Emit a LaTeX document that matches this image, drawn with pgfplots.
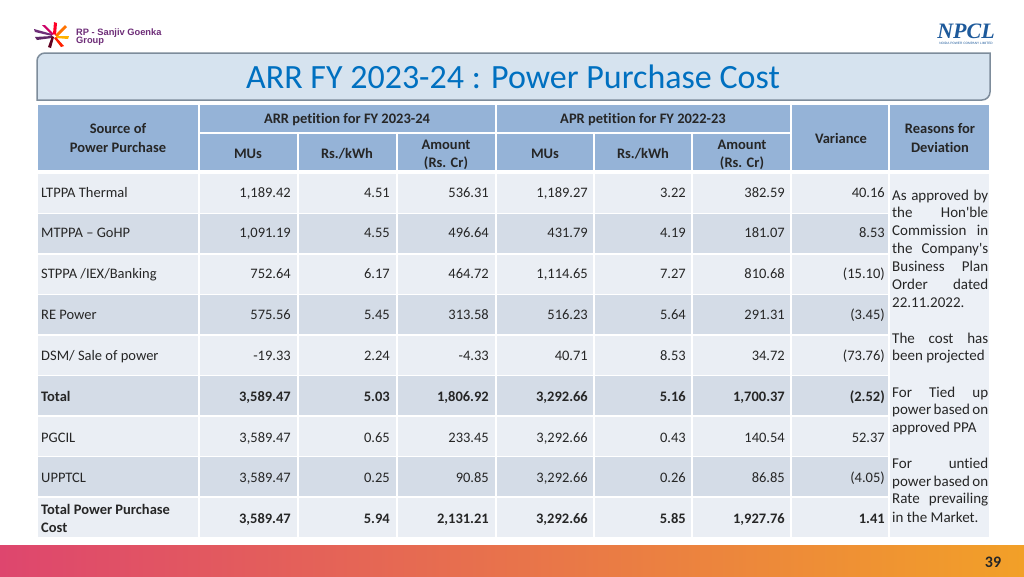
\documentclass[border=0pt]{standalone}
\usepackage{pgfplots}
\pgfplotsset{compat=1.18}
\usepackage{fontspec}
\setmainfont{Carlito}[Ligatures={NoCommon}]
\newfontfamily\logofont{Liberation Sans}
\newfontfamily\npclfont{Liberation Serif}
\definecolor{hdr}{RGB}{149,179,215}
\definecolor{rowA}{RGB}{234,238,244}
\definecolor{rowB}{RGB}{212,220,231}
\definecolor{reabg}{RGB}{236,240,246}
\definecolor{txt}{RGB}{38,38,38}
\definecolor{titlebg}{RGB}{214,227,239}
\definecolor{titlebd}{RGB}{125,140,155}
\definecolor{titletx}{RGB}{0,112,192}
\definecolor{logopurple}{RGB}{110,45,120}
\definecolor{npclblue}{RGB}{30,90,155}
\tikzset{
  num/.style={anchor=base east, inner sep=0pt, text=txt, font=\fontsize{14.5}{17}\selectfont},
  src/.style={anchor=base west, inner sep=0pt, text=txt, font=\fontsize{14.5}{17}\selectfont},
  hd/.style={anchor=center, inner sep=0pt, text=txt, font=\fontsize{14.5}{17}\selectfont\bfseries, align=center},
  rea/.style={anchor=base west, inner sep=0pt, text=txt, font=\fontsize{15}{18}\selectfont},
}
\newcommand{\rowv}[9]{%
  \node[num] at (axis cs:291,#1) {#2#3};
  \node[num] at (axis cs:390,#1) {#2#4};
  \node[num] at (axis cs:489,#1) {#2#5};
  \node[num] at (axis cs:588,#1) {#2#6};
  \node[num] at (axis cs:686,#1) {#2#7};
  \node[num] at (axis cs:785,#1) {#2#8};
  \node[num] at (axis cs:885,#1) {#2#9};}
\newcommand{\bandrow}[3]{%
  \fill[#3, draw=white, line width=1.5pt] (axis cs:37,#1) rectangle (axis cs:199,#2);
  \fill[#3, draw=white, line width=1.5pt] (axis cs:199,#1) rectangle (axis cs:298,#2);
  \fill[#3, draw=white, line width=1.5pt] (axis cs:298,#1) rectangle (axis cs:397,#2);
  \fill[#3, draw=white, line width=1.5pt] (axis cs:397,#1) rectangle (axis cs:496,#2);
  \fill[#3, draw=white, line width=1.5pt] (axis cs:496,#1) rectangle (axis cs:594,#2);
  \fill[#3, draw=white, line width=1.5pt] (axis cs:594,#1) rectangle (axis cs:692,#2);
  \fill[#3, draw=white, line width=1.5pt] (axis cs:692,#1) rectangle (axis cs:791,#2);
  \fill[#3, draw=white, line width=1.5pt] (axis cs:791,#1) rectangle (axis cs:889,#2);}
\newcommand{\jline}[2]{\node[rea] at (axis cs:892,#1) {\makebox[96pt][s]{#2}};}
\newcommand{\lline}[2]{\node[rea] at (axis cs:892,#1) {#2};}
\begin{document}
\begin{tikzpicture}
\begin{axis}[scale only axis, width=1024pt, height=576pt,
  xmin=0, xmax=1024, ymin=0, ymax=576, y dir=reverse,
  hide axis, clip=false]
\addplot[draw=none, mark=none] coordinates {(0,0) (1024,576)};
% background
\fill[white] (axis cs:0,0) rectangle (axis cs:1024,576);
% logo starburst
\fill[logopurple] (axis cs:52,34) -- (axis cs:34,29) -- (axis cs:35,32) -- (axis cs:52,36) -- cycle;
\fill[logopurple!85!black] (axis cs:52,36) -- (axis cs:35,37) -- (axis cs:37,40) -- (axis cs:52,38) -- cycle;
\fill[purple!80!magenta] (axis cs:52,35) -- (axis cs:42,25) -- (axis cs:45,25) -- (axis cs:54,34) -- cycle;
\fill[red!85!magenta] (axis cs:53,34) -- (axis cs:54,22) -- (axis cs:57,23) -- (axis cs:56,35) -- cycle;
\fill[orange!90!red] (axis cs:55,35) -- (axis cs:65,25) -- (axis cs:67,27) -- (axis cs:57,37) -- cycle;
\fill[orange!60!yellow] (axis cs:56,36) -- (axis cs:69,36) -- (axis cs:68,39) -- (axis cs:56,38) -- cycle;
\fill[red!75!orange] (axis cs:56,37) -- (axis cs:64,46) -- (axis cs:61,47) -- (axis cs:54,38) -- cycle;
\fill[purple!50!black] (axis cs:54,37) -- (axis cs:51,48) -- (axis cs:48,47) -- (axis cs:52,36) -- cycle;
\node[anchor=base west, inner sep=0pt, text=logopurple, font=\logofont\fontsize{9.3}{10}\selectfont\bfseries] at (axis cs:76,35.5) {RP - Sanjiv Goenka};
\node[anchor=base west, inner sep=0pt, text=logopurple, font=\logofont\fontsize{9.3}{10}\selectfont\bfseries] at (axis cs:76,43.5) {Group};
% NPCL
\node[anchor=base, inner sep=0pt, text=npclblue, font=\npclfont\fontsize{22}{24}\selectfont\bfseries\itshape] at (axis cs:966,38) {NPCL};
\node[anchor=base, inner sep=0pt, text=npclblue, font=\logofont\fontsize{3.2}{3.5}\selectfont] at (axis cs:966,44) {NOIDA POWER COMPANY LIMITED};
% title box
\draw[fill=titlebg, draw=titlebd, line width=1.5pt]
  (axis cs:37,80) [rounded corners=8pt]-- (axis cs:37,53) [sharp corners]-- (axis cs:990,53) -- (axis cs:990,80)
  [rounded corners=8pt]-- (axis cs:990,100) [sharp corners]-- (axis cs:37,100) -- cycle;
\node[anchor=base, inner sep=0pt, text=titletx, font=\fontsize{34}{38}\selectfont] at (axis cs:513,88) {ARR FY 2023-24 : Power Purchase Cost};
% header cells
\fill[hdr, draw=white, line width=2pt] (axis cs:37,104) rectangle (axis cs:199,171);
\fill[hdr, draw=white, line width=2pt] (axis cs:199,104) rectangle (axis cs:496,133);
\fill[hdr, draw=white, line width=2pt] (axis cs:496,104) rectangle (axis cs:791,133);
\fill[hdr, draw=white, line width=2pt] (axis cs:199,133) rectangle (axis cs:298,171);
\fill[hdr, draw=white, line width=2pt] (axis cs:298,133) rectangle (axis cs:397,171);
\fill[hdr, draw=white, line width=2pt] (axis cs:397,133) rectangle (axis cs:496,171);
\fill[hdr, draw=white, line width=2pt] (axis cs:496,133) rectangle (axis cs:594,171);
\fill[hdr, draw=white, line width=2pt] (axis cs:594,133) rectangle (axis cs:692,171);
\fill[hdr, draw=white, line width=2pt] (axis cs:692,133) rectangle (axis cs:791,171);
\fill[hdr, draw=white, line width=2pt] (axis cs:791,104) rectangle (axis cs:889,171);
\fill[hdr, draw=white, line width=2pt] (axis cs:889,104) rectangle (axis cs:990,171);
% header text
\node[hd] at (axis cs:118,129) {Source of};
\node[hd] at (axis cs:118,147) {Power Purchase};
\node[hd] at (axis cs:347,120) {ARR petition for FY 2023-24};
\node[hd] at (axis cs:643,120) {APR petition for FY 2022-23};
\node[hd] at (axis cs:248,154) {MUs};
\node[hd] at (axis cs:347,154) {Rs./kWh};
\node[hd] at (axis cs:446,145) {Amount};
\node[hd] at (axis cs:446,163) {(Rs. Cr)};
\node[hd] at (axis cs:545,154) {MUs};
\node[hd] at (axis cs:643,154) {Rs./kWh};
\node[hd] at (axis cs:742,145) {Amount};
\node[hd] at (axis cs:742,163) {(Rs. Cr)};
\node[hd] at (axis cs:841,138) {Variance};
\node[hd] at (axis cs:940,129) {Reasons for};
\node[hd] at (axis cs:940,147) {Deviation};
% body bands
\bandrow{173}{213.5}{rowA}
\bandrow{213.5}{254}{rowB}
\bandrow{254}{294.5}{rowA}
\bandrow{294.5}{335}{rowB}
\bandrow{335}{375.5}{rowA}
\bandrow{375.5}{416}{rowB}
\bandrow{416}{456.5}{rowA}
\bandrow{456.5}{497}{rowB}
\bandrow{497}{538}{rowA}
\fill[reabg, draw=white, line width=1.5pt] (axis cs:889,173) rectangle (axis cs:990,538);
% source names
\node[src] at (axis cs:41,197) {LTPPA Thermal};
\node[src] at (axis cs:41,237) {MTPPA – GoHP};
\node[src] at (axis cs:41,278) {STPPA /IEX/Banking};
\node[src] at (axis cs:41,319) {RE Power};
\node[src] at (axis cs:41,360) {DSM/ Sale of power};
\node[src] at (axis cs:41,401) {\bfseries Total};
\node[src] at (axis cs:41,442) {PGCIL};
\node[src] at (axis cs:41,482) {UPPTCL};
\node[src] at (axis cs:41,514) {\bfseries Total Power Purchase};
\node[src] at (axis cs:41,532) {\bfseries Cost};
% values
\rowv{197}{}{1,189.42}{4.51}{536.31}{1,189.27}{3.22}{382.59}{40.16}
\rowv{237}{}{1,091.19}{4.55}{496.64}{431.79}{4.19}{181.07}{8.53}
\rowv{278}{}{752.64}{6.17}{464.72}{1,114.65}{7.27}{810.68}{(15.10)}
\rowv{319}{}{575.56}{5.45}{313.58}{516.23}{5.64}{291.31}{(3.45)}
\rowv{360}{}{-19.33}{2.24}{-4.33}{40.71}{8.53}{34.72}{(73.76)}
\rowv{401}{\bfseries}{3,589.47}{5.03}{1,806.92}{3,292.66}{5.16}{1,700.37}{(2.52)}
\rowv{442}{}{3,589.47}{0.65}{233.45}{3,292.66}{0.43}{140.54}{52.37}
\rowv{482}{}{3,589.47}{0.25}{90.85}{3,292.66}{0.26}{86.85}{(4.05)}
\rowv{523}{\bfseries}{3,589.47}{5.94}{2,131.21}{3,292.66}{5.85}{1,927.76}{1.41}
% reasons
\jline{200}{As approved by}
\jline{217}{the Hon\textquotesingle ble}
\jline{235}{Commission in}
\jline{253}{the Company\textquotesingle s}
\jline{271}{Business Plan}
\jline{289}{Order dated}
\lline{307}{22.11.2022.}
\jline{343}{The cost has}
\lline{360}{been projected}
\jline{397}{For Tied up}
\jline{414}{power based on}
\lline{432}{approved PPA}
\jline{468}{For untied}
\jline{486}{power based on}
\jline{503}{Rate prevailing}
\lline{522}{in the Market.}
% footer
\shade[left color={rgb,255:red,222;green,70;blue,110}, middle color={rgb,255:red,236;green,120;blue,60}, right color={rgb,255:red,242;green,160;blue,40}] (axis cs:0,545) rectangle (axis cs:1024,576);
\node[anchor=base, inner sep=0pt, text=txt, font=\fontsize{16}{18}\selectfont\bfseries] at (axis cs:993,567) {39};
\end{axis}
\end{tikzpicture}
\end{document}
